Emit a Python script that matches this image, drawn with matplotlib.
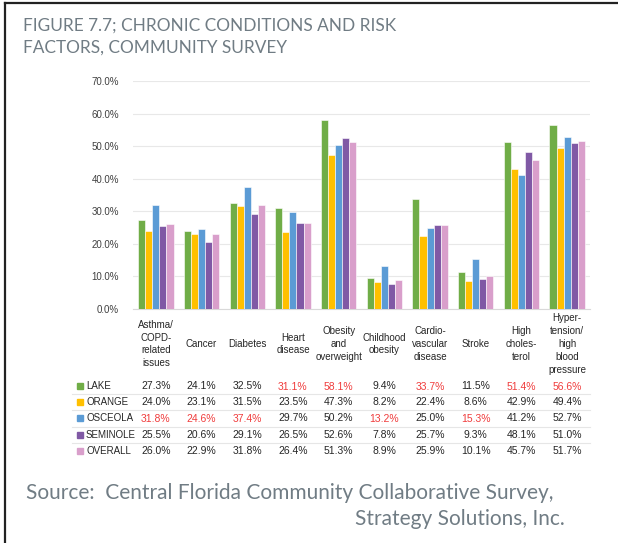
import numpy as np
import matplotlib.pyplot as plt
from matplotlib.lines import Line2D
from matplotlib.patches import Rectangle
from matplotlib.transforms import blended_transform_factory

# ====================== DATA ======================
categories = ['Asthma/\nCOPD-\nrelated\nissues', 'Cancer', 'Diabetes', 'Heart\ndisease',
              'Obesity\nand\noverweight', 'Childhood\nobesity', 'Cardio-\nvascular\ndisease',
              'Stroke', 'High\ncholes-\nterol', 'Hyper-\ntension/\nhigh\nblood\npressure']
series_names = ['LAKE', 'ORANGE', 'OSCEOLA', 'SEMINOLE', 'OVERALL']
lake = [27.3, 24.1, 32.5, 31.1, 58.1, 9.4, 33.7, 11.5, 51.4, 56.6]
orange = [24.0, 23.1, 31.5, 23.5, 47.3, 8.2, 22.4, 8.6, 42.9, 49.4]
osceola = [31.8, 24.6, 37.4, 29.7, 50.2, 13.2, 25.0, 15.3, 41.2, 52.7]
seminole = [25.5, 20.6, 29.1, 26.5, 52.6, 7.8, 25.7, 9.3, 48.1, 51.0]
overall = [26.0, 22.9, 31.8, 26.4, 51.3, 8.9, 25.9, 10.1, 45.7, 51.7]
# cells highlighted in red in the data table (row, column)
red_cells = [(0, 3), (0, 4), (0, 6), (0, 8), (0, 9),
             (2, 0), (2, 1), (2, 2), (2, 5), (2, 7)]
yticks = [0, 10, 20, 30, 40, 50, 60, 70]

title = 'FIGURE 7.7; CHRONIC CONDITIONS AND RISK\nFACTORS, COMMUNITY SURVEY'
source1 = 'Source:  Central Florida Community Collaborative Survey,'
source2 = 'Strategy Solutions, Inc.'

# ====================== STYLE ======================
colors = ['#70AD47', '#FFC000', '#5B9BD5', '#8059A5', '#D99FCB']
gray_txt = '#707C84'
red_txt = '#F03C3C'
small_font = 'Liberation Sans'

W, H = 618, 543
fig = plt.figure(figsize=(W / 100, H / 100), dpi=100)

def fx(px):
    return px / W

def fy(py):
    return 1 - py / H

# border (top and left)
fig.add_artist(Line2D([fx(5), 1], [fy(3), fy(3)], color='#222222', lw=1.6))
fig.add_artist(Line2D([fx(5), fx(5)], [fy(3), 0], color='#222222', lw=1.6))

fig.text(fx(23), fy(18), title, ha='left', va='top', fontsize=12.4, color=gray_txt,
         family='Lato', linespacing=1.4)

# ====================== BARS ======================
ax = fig.add_axes([fx(133), fy(309), fx(590) - fx(133), fy(81) - fy(309)])
data = [lake, orange, osceola, seminole, overall]
x = np.arange(len(categories))
w = 0.155
for i, (vals, c) in enumerate(zip(data, colors)):
    ax.bar(x + (i - 2) * w, vals, width=w, color=c, edgecolor='white', linewidth=0.4, zorder=3)

ax.set_xlim(-0.5, len(categories) - 0.5)
ax.set_ylim(0, 70)
ax.set_yticks(yticks)
ax.set_yticklabels([f'{v:.1f}%' for v in yticks], fontsize=7, color='#404040', family=small_font)
ax.set_xticks([])
ax.tick_params(axis='y', length=0, pad=10)
ax.grid(axis='y', color='#E8E8E8', lw=0.8, zorder=0)
for s in ['top', 'right', 'left']:
    ax.spines[s].set_visible(False)
ax.spines['bottom'].set_color('#D9D9D9')

# ====================== TABLE ======================
tr = blended_transform_factory(ax.transData, fig.transFigure)
for xi, lab in zip(x, categories):
    ax.text(xi, fy(344), lab, transform=tr, ha='center', va='center', fontsize=7,
            family=small_font, color='#262626', linespacing=1.35)

row_y = [386, 402, 418, 435, 451]
for r, (name, vals, c) in enumerate(zip(series_names, data, colors)):
    fig.add_artist(Rectangle((fx(77), fy(row_y[r]) - 2.5 / H), 5.5 / W, 5.5 / H,
                             color=c, transform=fig.transFigure))
    fig.text(fx(86), fy(row_y[r]), name, ha='left', va='center', fontsize=7,
             family=small_font, color='#262626')
    for ci, v in enumerate(vals):
        red = (r, ci) in red_cells
        ax.text(x[ci], fy(row_y[r] + (1.5 if red else 0)), f'{v:.1f}%', transform=tr,
                ha='center', va='center', fontsize=7.5, family=small_font,
                color=red_txt if red else '#262626')

for yy in [394, 410, 427, 443]:
    fig.add_artist(Line2D([fx(72), fx(590)], [fy(yy), fy(yy)], color='#E6E6E6', lw=0.8))

# ====================== SOURCE ======================
fig.text(fx(26), fy(493), source1, ha='left', va='center', fontsize=15, color=gray_txt,
         family='Lato')
fig.text(fx(565), fy(519), source2, ha='right', va='center', fontsize=15, color=gray_txt,
         family='Lato')

plt.savefig('out.png', dpi=100)
plt.close()
